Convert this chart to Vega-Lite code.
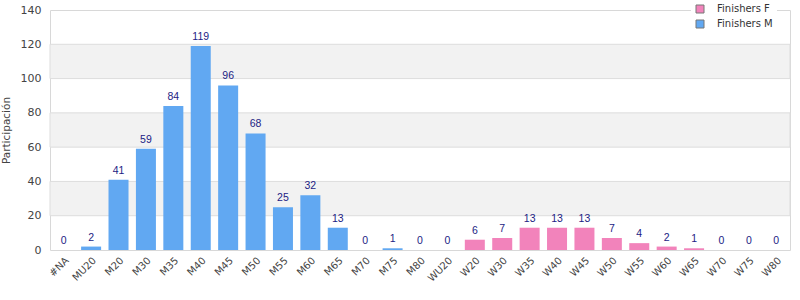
{
  "$schema": "https://vega.github.io/schema/vega-lite/v6.json",
  "width": 740,
  "height": 240,
  "autosize": "none",
  "padding": {"left": 50, "top": 10, "right": 10, "bottom": 50},
  "background": "white",
  "config": {
    "font": "DejaVu Sans",
    "view": {"stroke": "#d8d8d8", "strokeWidth": 1},
    "axis": {"labelOverlap": false},
    "axisLeft": {"labelOverlap": false},
    "axisQuantitative": {"labelOverlap": false, "tickCount": 7}
  },
  "datasets": {
    "counts": [
      {"category": "#NA", "series": "Finishers M", "value": 0},
      {"category": "MU20", "series": "Finishers M", "value": 2},
      {"category": "M20", "series": "Finishers M", "value": 41},
      {"category": "M30", "series": "Finishers M", "value": 59},
      {"category": "M35", "series": "Finishers M", "value": 84},
      {"category": "M40", "series": "Finishers M", "value": 119},
      {"category": "M45", "series": "Finishers M", "value": 96},
      {"category": "M50", "series": "Finishers M", "value": 68},
      {"category": "M55", "series": "Finishers M", "value": 25},
      {"category": "M60", "series": "Finishers M", "value": 32},
      {"category": "M65", "series": "Finishers M", "value": 13},
      {"category": "M70", "series": "Finishers M", "value": 0},
      {"category": "M75", "series": "Finishers M", "value": 1},
      {"category": "M80", "series": "Finishers M", "value": 0},
      {"category": "WU20", "series": "Finishers F", "value": 0},
      {"category": "W20", "series": "Finishers F", "value": 6},
      {"category": "W30", "series": "Finishers F", "value": 7},
      {"category": "W35", "series": "Finishers F", "value": 13},
      {"category": "W40", "series": "Finishers F", "value": 13},
      {"category": "W45", "series": "Finishers F", "value": 13},
      {"category": "W50", "series": "Finishers F", "value": 7},
      {"category": "W55", "series": "Finishers F", "value": 4},
      {"category": "W60", "series": "Finishers F", "value": 2},
      {"category": "W65", "series": "Finishers F", "value": 1},
      {"category": "W70", "series": "Finishers F", "value": 0},
      {"category": "W75", "series": "Finishers F", "value": 0},
      {"category": "W80", "series": "Finishers F", "value": 0}
    ],
    "bands": [
      {"lo": 20, "hi": 40},
      {"lo": 60, "hi": 80},
      {"lo": 100, "hi": 120}
    ]
  },
  "layer": [
    {
      "data": {"name": "bands"},
      "mark": {"type": "rect", "fill": "#f2f2f2", "stroke": "#dddddd", "strokeWidth": 1},
      "encoding": {
        "y": {
          "field": "lo",
          "type": "quantitative",
          "scale": {"domain": [0, 140], "nice": false, "zero": true},
          "axis": {
            "title": "Participación",
            "titleFontSize": 10.5,
            "titleFontWeight": "normal",
            "titleColor": "#444444",
            "titlePadding": 9,
            "tickCount": 7,
            "labelOverlap": false,
            "labelBound": false,
            "labelFlush": false,
            "labelFontSize": 11,
            "labelColor": "#444444",
            "ticks": false,
            "domain": false,
            "grid": false,
            "labelPadding": 9
          }
        },
        "y2": {"field": "hi"}
      }
    },
    {
      "data": {"name": "counts"},
      "layer": [
        {
          "mark": {"type": "bar"},
          "encoding": {
            "x": {
              "field": "category",
              "type": "nominal",
              "sort": null,
              "scale": {"paddingInner": 0.27, "paddingOuter": 0.135},
              "axis": {
                "title": null,
                "labelAngle": -45,
                "labelAlign": "right",
                "labelBaseline": "top",
                "labelFontSize": 10,
                "labelColor": "#444444",
                "ticks": false,
                "domain": false,
                "labelPadding": 5
              }
            },
            "y": {"field": "value", "type": "quantitative"},
            "color": {
              "field": "series",
              "type": "nominal",
              "scale": {"domain": ["Finishers F", "Finishers M"], "range": ["#f283bb", "#61a8f2"]},
              "legend": {
                "title": null,
                "orient": "none",
                "legendX": 641,
                "legendY": -10,
                "fillColor": "white",
                "padding": 4,
                "symbolType": "square",
                "symbolSize": 64,
                "symbolStrokeColor": "#777777",
                "symbolStrokeWidth": 1,
                "labelFontSize": 10,
                "labelColor": "#333333",
                "labelOffset": 12,
                "rowPadding": 3
              }
            }
          }
        },
        {
          "mark": {"type": "text", "dy": -9, "fontSize": 10.5, "font": "Liberation Sans", "color": "#1c1c84"},
          "encoding": {
            "x": {"field": "category", "type": "nominal", "sort": null},
            "y": {"field": "value", "type": "quantitative"},
            "text": {"field": "value", "type": "quantitative"}
          }
        }
      ]
    }
  ]
}
